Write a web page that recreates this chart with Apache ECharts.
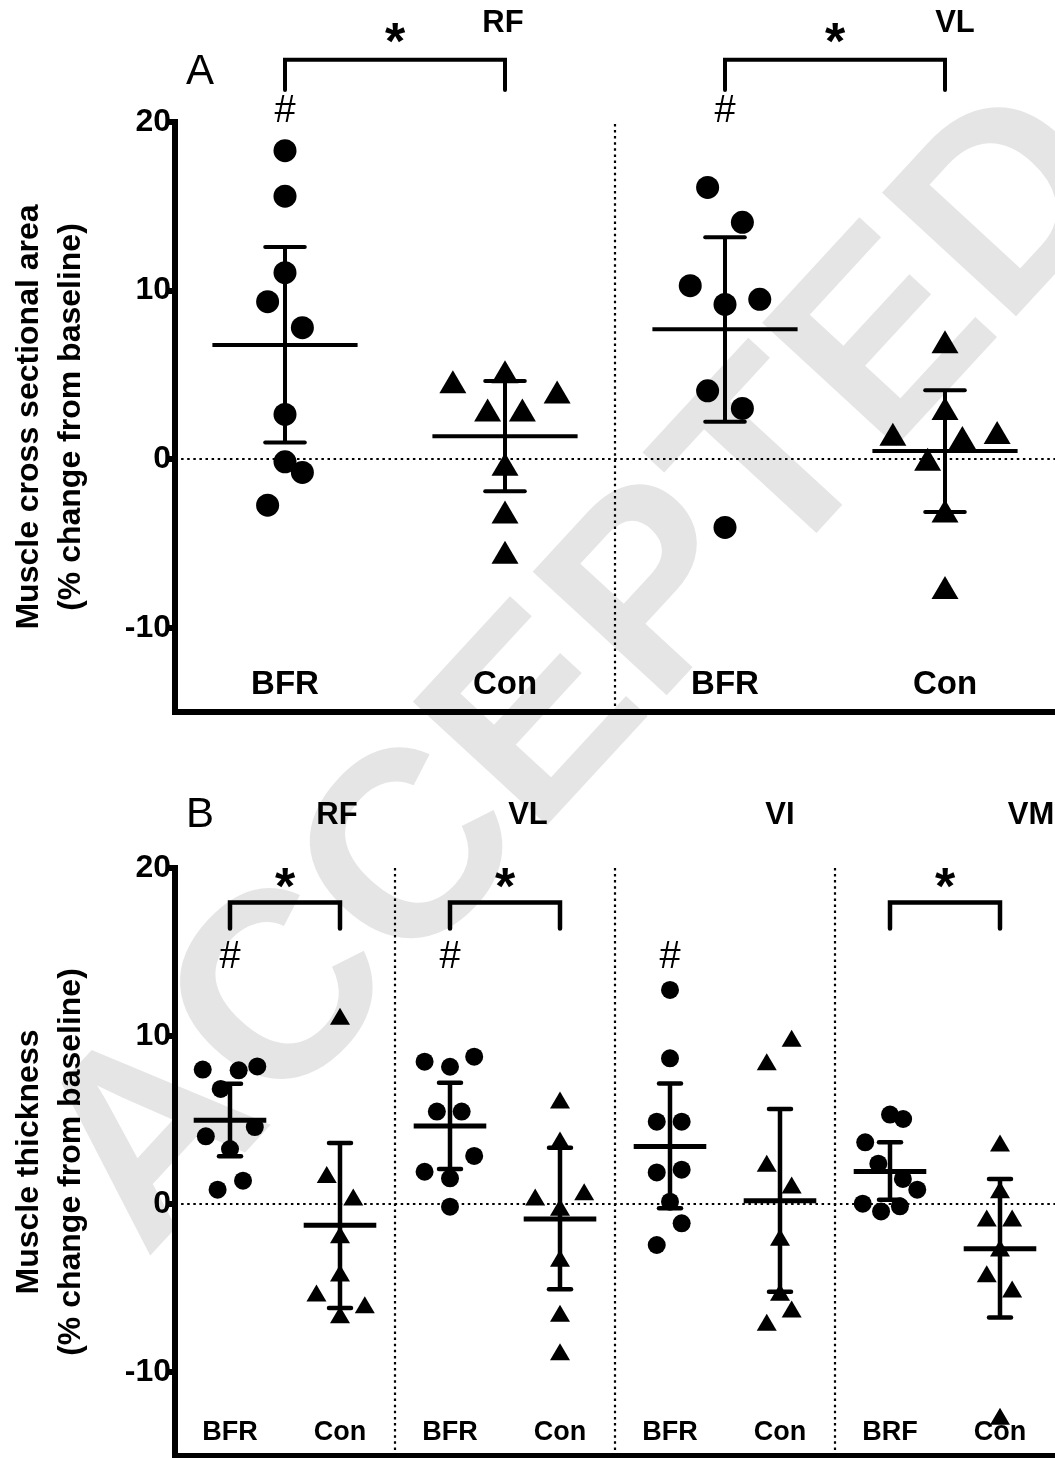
<!DOCTYPE html>
<html><head><meta charset="utf-8">
<script src="https://cdn.jsdelivr.net/npm/echarts@6/dist/echarts.min.js"></script>
<style>html,body{margin:0;padding:0;background:#fff}#c{width:1055px;height:1458px}</style>
</head><body><div id="c"></div>
<script>
// ===== Data =====
// Tick labels on both y axes
const yTicks = [-10, 0, 10, 20];

// Panel A: muscle cross-sectional area (% change from baseline)
const catsA = ['BFR', 'Con', 'BFR', 'Con'];
const musclesA = ['RF', 'VL'];
const aRfBfr = [18.3, 15.6, 11.06, 9.34, 7.8, 2.65, -0.16, -0.79, -2.73];
const aRfBfrLane = [0, 0, 0, -1, 1, 0, 0, 1, -1];
const aRfCon = [5.18, 4.59, 3.99, 2.91, 2.91, -0.30, -3.13, -5.52];
const aRfConLane = [0, -3, 3, -1, 1, 0, 0, 0];
const aVlBfr = [16.12, 14.05, 10.29, 9.48, 9.18, 4.05, 3.01, -4.05];
const aVlBfrLane = [-1, 1, -2, 2, 0, -1, 1, 0];
const aVlCon = [6.96, 3.01, 1.58, 1.48, 1.29, 0.0, -3.07, -7.62];
const aVlConLane = [0, 0, 3, -3, 1, -1, 0, 0];
const aMean = [6.77, 1.36, 7.70, 0.49];
const aLow = [0.99, -1.90, 2.22, -3.13];
const aHigh = [12.58, 4.63, 13.16, 4.09];
const aHash = [0, 2];            // groups marked '#'
const aBrackets = [[0, 1], [2, 3]]; // groups joined by '*'

// Panel B: muscle thickness (% change from baseline)
const catsB = ['BFR', 'Con', 'BFR', 'Con', 'BFR', 'Con', 'BRF', 'Con'];
const musclesB = ['RF', 'VL', 'VI', 'VM'];
const bRfBfr = [8.0, 7.96, 8.19, 6.85, 4.03, 4.58, 3.27, 1.39, 0.85];
const bRfBfrLane = [-2.2, 0.7, 2.2, -0.75, -1.95, 2.0, 0, 1.05, -1.0];
const bRfCon = [11.17, 1.75, 0.42, -1.83, -4.11, -5.30, -5.99, -6.59];
const bRfConLane = [0, -1.07, 1.07, 0, 0, -1.9, 2.0, 0];
const bVlBfr = [8.47, 8.17, 8.77, 5.50, 5.50, 2.86, 1.92, 1.53, -0.16];
const bVlBfrLane = [-2.05, 0, 1.95, -1.06, 0.94, 1.95, -2.05, 0, 0];
const bVlCon = [6.19, 3.81, 0.42, 0.73, -0.2, -3.23, -6.51, -8.79];
const bVlConLane = [0, 0, -2, 1.95, 0, 0, 0, 0];
const bViBfr = [12.74, 8.67, 4.90, 4.90, 1.88, 2.04, 0.14, -1.15, -2.44];
const bViBfrLane = [0, 0, -1.07, 0.94, -1.07, 0.94, 0, 0.94, -1.07];
const bViCon = [9.86, 8.47, 2.42, 1.13, -1.98, -5.26, -6.25, -7.04];
const bViConLane = [0.94, -1.07, -1.07, 0.94, 0, 0, 0.94, -1.07];
const bVmBfr = [5.32, 5.06, 3.67, 2.40, 1.49, 0.85, 0.02, -0.14, -0.44];
const bVmBfrLane = [0, 1.06, -2, -0.94, 1.04, 2.2, -2.2, 0.8, -0.72];
const bVmCon = [3.63, 0.85, -0.83, -0.83, -2.62, -4.15, -5.06, -12.64];
const bVmConLane = [0, 0, -1.07, 0.98, 0, -1.07, 0.98, 0];
const bMean = [4.98, -1.27, 4.64, -0.89, 3.43, 0.20, 1.94, -2.66];
const bLow = [2.84, -6.19, 2.08, -5.08, -0.26, -5.22, 0.26, -6.75];
const bHigh = [7.16, 3.63, 7.22, 3.35, 7.18, 5.65, 3.67, 1.49];
const bHash = [0, 2, 4];
const bBrackets = [[0, 1], [2, 3], [6, 7]];

// ===== Chart =====
const FONT = "'Liberation Sans', Arial, Helvetica, sans-serif";
const chart = echarts.init(document.getElementById('c'), null, {renderer: 'canvas'});

const panels = [
  {
    cats: catsA, name: 'Muscle cross sectional area\n(% change from baseline)',
    groups: [[aRfBfr, aRfBfrLane, 'circle'], [aRfCon, aRfConLane, 'triangle'],
             [aVlBfr, aVlBfrLane, 'circle'], [aVlCon, aVlConLane, 'triangle']],
    mean: aMean, low: aLow, high: aHigh, hash: aHash, brackets: aBrackets,
    grid: {left: 171, top: 122, width: 887, height: 590},
    laneW: 0.079, circle: 23, tri: [27, 23], catFont: 33, catMargin: 11,
    meanHalf: 0.33, capHalf: 0.09, meanLw: 4, barLw: 4,
    brTop: 23.7, brLeg: 21.9, star: 25.3, hashY: 20.65, brLw: 4,
    seps: [1.5]
  },
  {
    cats: catsB, name: 'Muscle thickness\n(% change from baseline)',
    groups: [[bRfBfr, bRfBfrLane, 'circle'], [bRfCon, bRfConLane, 'triangle'],
             [bVlBfr, bVlBfrLane, 'circle'], [bVlCon, bVlConLane, 'triangle'],
             [bViBfr, bViBfrLane, 'circle'], [bViCon, bViConLane, 'triangle'],
             [bVmBfr, bVmBfrLane, 'circle'], [bVmCon, bVmConLane, 'triangle']],
    mean: bMean, low: bLow, high: bHigh, hash: bHash, brackets: bBrackets,
    grid: {left: 171, top: 868, width: 887, height: 588},
    laneW: 0.1127, circle: 18, tri: [20, 17], catFont: 27, catMargin: 10,
    meanHalf: 0.33, capHalf: 0.1, meanLw: 5, barLw: 4.5,
    brTop: 17.95, brLeg: 16.4, star: 19.4, hashY: 14.7, brLw: 4.5,
    seps: [1.5, 3.5, 5.5]
  }
];

const grid = [], xAxis = [], yAxis = [], series = [];

panels.forEach((p, pi) => {
  grid.push(p.grid);
  xAxis.push({
    type: 'category', gridIndex: pi, data: p.cats, position: 'bottom',
    axisLine: {onZero: false, lineStyle: {color: '#000', width: 6, cap: 'square'}},
    axisTick: {show: false},
    axisLabel: {inside: true, margin: p.catMargin, interval: 0, color: '#000',
      fontFamily: FONT, fontWeight: 'bold', fontSize: p.catFont},
    splitLine: {show: false}
  });
  const valAxis = xAxis.length;
  xAxis.push({type: 'value', gridIndex: pi, min: -0.5, max: p.cats.length - 0.5, show: false});
  yAxis.push({
    type: 'value', gridIndex: pi, min: -15, max: 20,
    name: p.name, nameLocation: 'middle', nameGap: 83, nameRotate: 90,
    nameTextStyle: {fontFamily: FONT, fontWeight: 'bold', fontSize: 32, lineHeight: 42, color: '#000'},
    axisLine: {show: true, onZero: false, lineStyle: {color: '#000', width: 6, cap: 'square'}},
    axisTick: {show: true, length: 9, lineStyle: {color: '#000', width: 6}, customValues: yTicks},
    axisLabel: {color: '#000', fontFamily: FONT, fontWeight: 'bold', fontSize: 32, margin: 4, customValues: yTicks},
    splitLine: {show: false}
  });

  // points
  p.groups.forEach((g, gi) => {
    const [vals, lanes, sym] = g;
    const s = {
      type: 'scatter', xAxisIndex: valAxis, yAxisIndex: pi,
      symbol: sym, symbolSize: sym === 'circle' ? p.circle : p.tri,
      itemStyle: {color: '#000', opacity: 1}, z: 3, silent: true,
      data: vals.map((v, i) => [gi + lanes[i] * p.laneW, v])
    };
    if (gi === 0) {
      s.markLine = {
        silent: true, symbol: ['none', 'none'], label: {show: false}, animation: false,
        lineStyle: {color: '#000', width: 2.2, type: [2.5, 3.6], opacity: 1},
        data: [{yAxis: 0}].concat(p.seps.map(x => ({xAxis: x})))
      };
    }
    series.push(s);
  });

  // mean and 95% CI bars
  series.push({
    type: 'custom', xAxisIndex: valAxis, yAxisIndex: pi, clip: false, z: 4, silent: true,
    data: p.mean.map((m, i) => [i, m, p.low[i], p.high[i]]),
    renderItem: (params, api) => {
      const x = api.value(0);
      const c = api.coord([x, api.value(1)]);
      const cl = api.coord([x, api.value(2)]);
      const ch = api.coord([x, api.value(3)]);
      const w = api.size([1, 0])[0];
      const hm = w * p.meanHalf, hc = w * p.capHalf;
      const st = {stroke: '#000', lineWidth: p.barLw, lineCap: 'round'};
      return {type: 'group', children: [
        {type: 'line', shape: {x1: c[0] - hm, y1: c[1], x2: c[0] + hm, y2: c[1]}, style: {stroke: '#000', lineWidth: p.meanLw}},
        {type: 'line', shape: {x1: c[0], y1: cl[1], x2: c[0], y2: ch[1]}, style: {stroke: '#000', lineWidth: p.barLw}},
        {type: 'line', shape: {x1: c[0] - hc, y1: cl[1], x2: c[0] + hc, y2: cl[1]}, style: st},
        {type: 'line', shape: {x1: c[0] - hc, y1: ch[1], x2: c[0] + hc, y2: ch[1]}, style: st}
      ]};
    }
  });

  // significance brackets (*)
  series.push({
    type: 'custom', xAxisIndex: valAxis, yAxisIndex: pi, clip: false, z: 4, silent: true,
    data: p.brackets.map(b => [b[0], b[1]]),
    renderItem: (params, api) => {
      const a = api.coord([api.value(0), p.brTop]);
      const b = api.coord([api.value(1), p.brTop]);
      const leg = api.coord([api.value(0), p.brLeg])[1];
      const st = api.coord([(api.value(0) + api.value(1)) / 2, p.star]);
      return {type: 'group', children: [
        {type: 'polyline', shape: {points: [[a[0], leg], [a[0], a[1]], [b[0], b[1]], [b[0], leg]]},
          style: {stroke: '#000', fill: null, lineWidth: p.brLw, lineJoin: 'miter', lineCap: 'round'}},
        {type: 'text', x: st[0], y: st[1] + 12,
          style: {text: '*', fill: '#000', font: 'bold 52px ' + FONT, align: 'center', verticalAlign: 'middle'}}
      ]};
    }
  });

  // '#' marks
  series.push({
    type: 'custom', xAxisIndex: valAxis, yAxisIndex: pi, clip: false, z: 4, silent: true,
    data: p.hash.map(h => [h]),
    renderItem: (params, api) => {
      const c = api.coord([api.value(0), p.hashY]);
      return {type: 'text', x: c[0], y: c[1],
        style: {text: '#', fill: '#000', font: '38px ' + FONT, align: 'center', verticalAlign: 'middle'}};
    }
  });
});

const titleStyle = (t, x, y, size, weight) => ({
  type: 'text', x, y, z: 10,
  style: {text: t, fill: '#000', font: weight + ' ' + size + 'px ' + FONT, align: 'center', verticalAlign: 'middle'}
});

chart.setOption({
  animation: false,
  backgroundColor: '#fff',
  grid, xAxis, yAxis, series,
  graphic: [
    {type: 'text', x: 586, y: 675, rotation: 0.826, z: -10, silent: true,
      style: {text: 'ACCEPTED', fill: '#e5e5e5', font: 'bold 265px ' + FONT, align: 'center', verticalAlign: 'middle'}},
    titleStyle('A', 200, 72, 42, 'normal'),
    titleStyle(musclesA[0], 503, 23, 31, 'bold'),
    titleStyle(musclesA[1], 955, 23, 31, 'bold'),
    titleStyle('B', 200, 815, 42, 'normal'),
    titleStyle(musclesB[0], 337, 815, 31, 'bold'),
    titleStyle(musclesB[1], 528, 815, 31, 'bold'),
    titleStyle(musclesB[2], 780, 815, 31, 'bold'),
    titleStyle(musclesB[3], 1031, 815, 31, 'bold')
  ]
});
</script>
</body></html>
